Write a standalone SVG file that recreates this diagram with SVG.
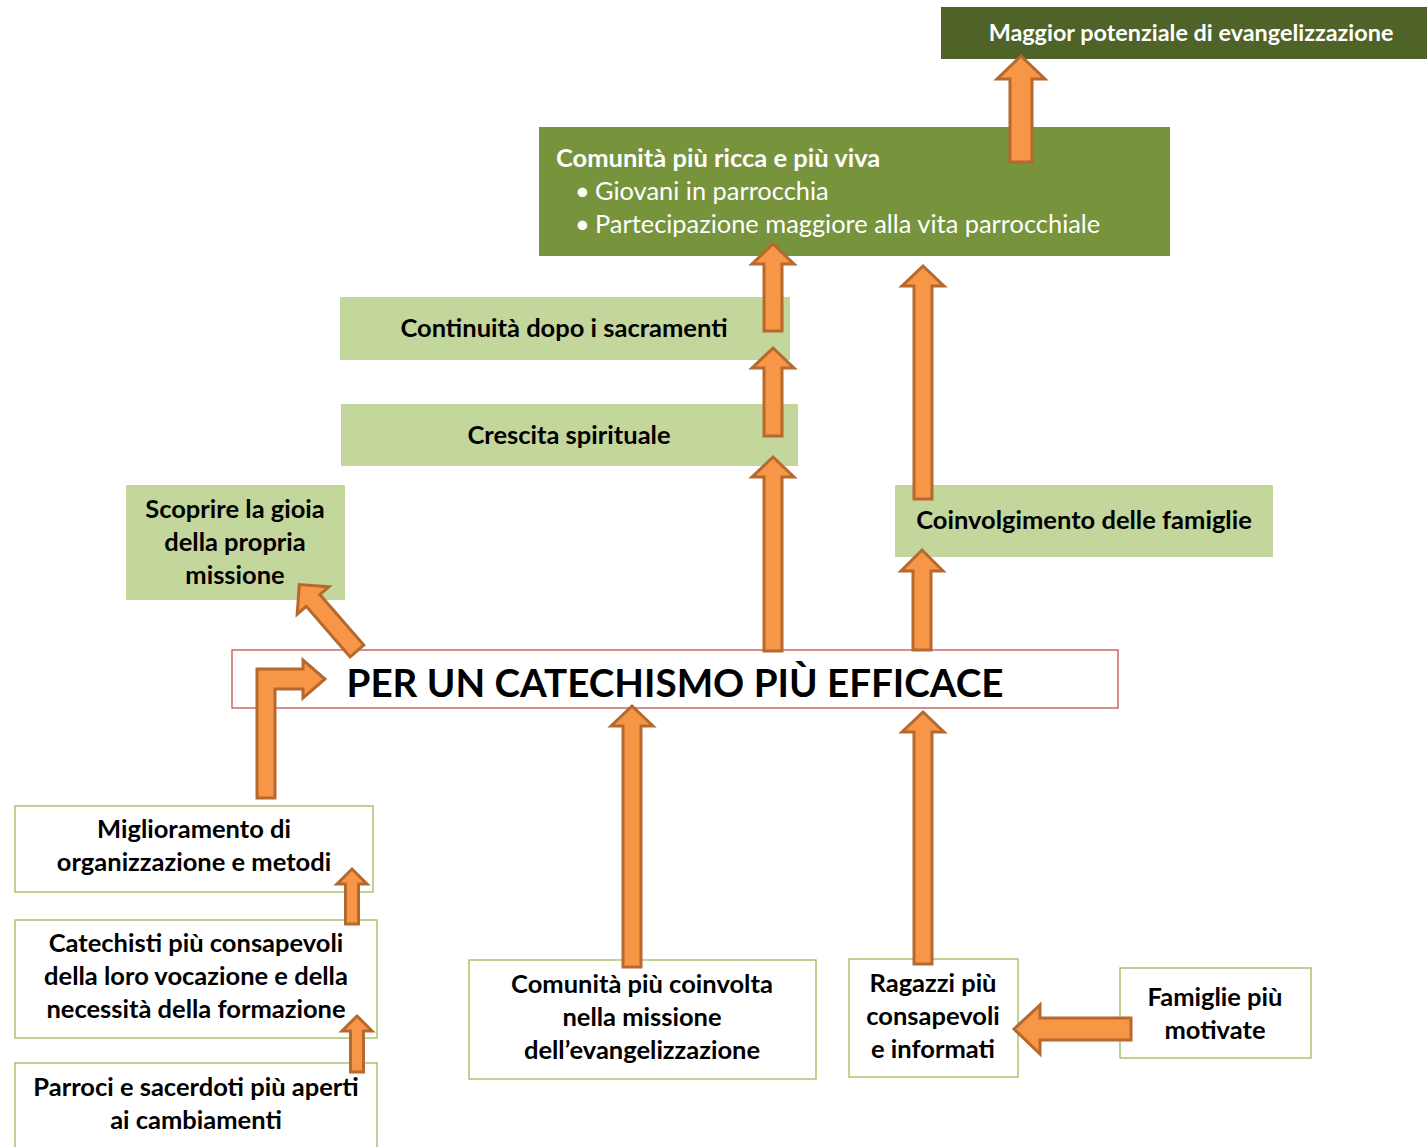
<svg xmlns="http://www.w3.org/2000/svg" width="1427" height="1147" viewBox="0 0 1427 1147">
<style>
text{font-family:Lato,"Noto Sans","Liberation Sans",sans-serif;}
.b{font-weight:bold;font-size:25.5px;fill:#000;text-anchor:middle;}
.w{font-weight:bold;font-size:25.5px;fill:#fff;}
.r{font-size:25.4px;fill:#fff;}
.lg{fill:#C3D69B;}
.ob{fill:#fff;stroke:#9BBB59;stroke-width:1.3;}
.arr{fill:#F79646;stroke:#B5692F;stroke-width:3;stroke-linejoin:miter;}
</style>
<rect width="1427" height="1147" fill="#fff"/>
<g id="n-maggior">
<rect x="941" y="7" width="486" height="52" fill="#4F6228"/>
<text x="1191" y="41" text-anchor="middle" font-weight="bold" font-size="23.4" fill="#fff">Maggior potenziale di evangelizzazione</text>
</g>
<g id="n-comunita-ricca">
<rect x="539" y="127" width="631" height="129" fill="#77933C"/>
<text class="w" x="556" y="167">Comunità più ricca e più viva</text>
<text class="r" x="575" y="200">•</text>
<text class="r" x="595" y="200">Giovani in parrocchia</text>
<text class="r" x="575" y="233">•</text>
<text class="r" x="595" y="233">Partecipazione maggiore alla vita parrocchiale</text>
</g>
<g id="n-continuita">
<rect class="lg" x="340" y="297" width="450" height="63"/>
<text class="b" x="564" y="337">Continuità dopo i sacramenti</text>
</g>
<g id="n-crescita">
<rect class="lg" x="341" y="404" width="457" height="62"/>
<text class="b" x="569" y="444">Crescita spirituale</text>
</g>
<g id="n-scoprire">
<rect class="lg" x="126" y="485" width="219" height="115"/>
<text class="b" x="235" y="518">Scoprire la gioia</text>
<text class="b" x="235" y="551">della propria</text>
<text class="b" x="235" y="584">missione</text>
</g>
<g id="n-coinvolgimento">
<rect class="lg" x="895" y="485" width="378" height="72"/>
<text class="b" x="1084" y="529">Coinvolgimento delle famiglie</text>
</g>
<g id="n-centrale">
<rect x="232" y="650" width="886" height="58" fill="#fff" stroke="#C0504D" stroke-width="1.3"/>
<text x="675" y="697" font-weight="bold" font-size="38.6" text-anchor="middle" fill="#000">PER UN CATECHISMO PIÙ EFFICACE</text>
</g>
<g id="n-miglioramento">
<rect class="ob" x="15" y="806" width="358" height="86"/>
<text class="b" x="194" y="838">Miglioramento di</text>
<text class="b" x="194" y="871">organizzazione e metodi</text>
</g>
<g id="n-catechisti">
<rect class="ob" x="15" y="920" width="362" height="118"/>
<text class="b" x="196" y="952">Catechisti più consapevoli</text>
<text class="b" x="196" y="985">della loro vocazione e della</text>
<text class="b" x="196" y="1018">necessità della formazione</text>
</g>
<g id="n-parroci">
<rect class="ob" x="15" y="1063" width="362" height="100"/>
<text class="b" x="196" y="1096">Parroci e sacerdoti più aperti</text>
<text class="b" x="196" y="1129">ai cambiamenti</text>
</g>
<g id="n-comunita-coinvolta">
<rect class="ob" x="469" y="960" width="347" height="119"/>
<text class="b" x="642" y="993">Comunità più coinvolta</text>
<text class="b" x="642" y="1026">nella missione</text>
<text class="b" x="642" y="1059">dell’evangelizzazione</text>
</g>
<g id="n-ragazzi">
<rect class="ob" x="849" y="959" width="169" height="118"/>
<text class="b" x="933" y="992">Ragazzi più</text>
<text class="b" x="933" y="1025">consapevoli</text>
<text class="b" x="933" y="1058">e informati</text>
</g>
<g id="n-famiglie">
<rect class="ob" x="1120" y="968" width="191" height="90"/>
<text class="b" x="1215" y="1006">Famiglie più</text>
<text class="b" x="1215" y="1039">motivate</text>
</g>
<g id="connectors">
<path class="arr" d="M1010,162 L1010,79 L997,79 L1021,56 L1045,79 L1032,79 L1032,162 Z"/>
<path class="arr" d="M764,331 L764,264 L752,264 L773,244 L794,264 L782,264 L782,331 Z"/>
<path class="arr" d="M764,436 L764,368 L752,368 L773,348 L794,368 L782,368 L782,436 Z"/>
<path class="arr" d="M764,651 L764,477 L752,477 L773,457 L794,477 L782,477 L782,651 Z"/>
<path class="arr" d="M914,499 L914,286 L902,286 L923,266 L944,286 L932,286 L932,499 Z"/>
<path class="arr" d="M913,650 L913,571 L901,571 L922,550 L943,571 L931,571 L931,650 Z"/>
<path class="arr" transform="translate(357,651) rotate(-41)" d="M-9,0 L-9,-67 L-21,-67 L0,-88 L21,-67 L9,-67 L9,0 Z"/>
<path class="arr" d="M257,798 L257,669 L303,669 L303,660 L325,679 L303,698 L303,689 L275,689 L275,798 Z"/>
<path class="arr" d="M623,967 L623,726 L611,726 L632,706 L653,726 L641,726 L641,967 Z"/>
<path class="arr" d="M914,964 L914,732 L902,732 L923,712 L944,732 L932,732 L932,964 Z"/>
<path class="arr" d="M345.5,924 L345.5,884 L337,884 L352,869 L367,884 L358.5,884 L358.5,924 Z"/>
<path class="arr" d="M350.5,1072 L350.5,1031 L342,1031 L357,1016 L372,1031 L363.5,1031 L363.5,1072 Z"/>
<path class="arr" d="M1131,1018 L1040,1018 L1040,1005 L1014,1029 L1040,1054 L1040,1040 L1131,1040 Z"/>
</g>
</svg>
